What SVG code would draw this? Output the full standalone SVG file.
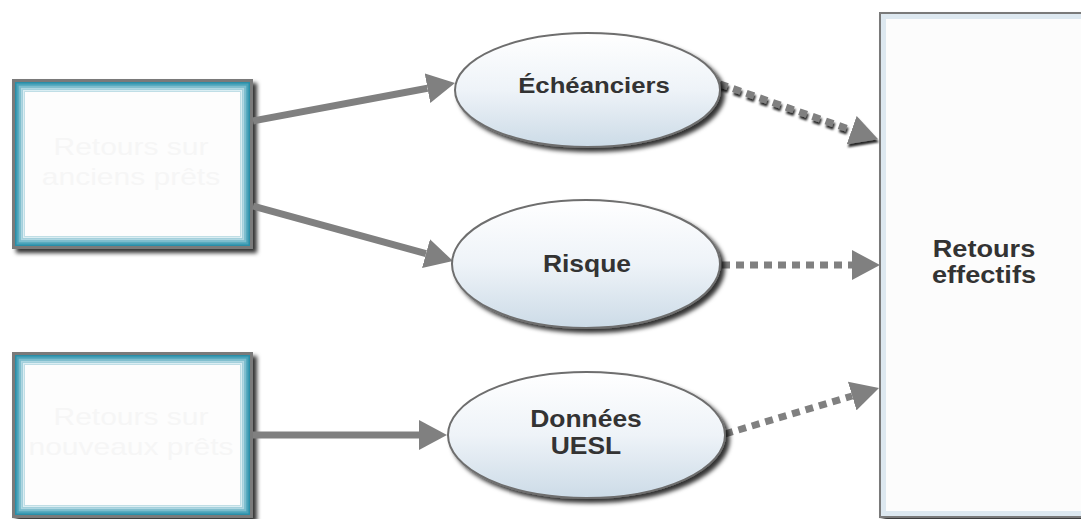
<svg xmlns="http://www.w3.org/2000/svg" width="1081" height="519" viewBox="0 0 1081 519">
<defs>
<linearGradient id="ellGrad" x1="0" y1="0" x2="0" y2="1">
<stop offset="0" stop-color="#ffffff"/>
<stop offset="0.5" stop-color="#eef3f8"/>
<stop offset="1" stop-color="#ccdbe7"/>
</linearGradient>
<filter id="shadow" x="-10%" y="-10%" width="125%" height="130%">
<feDropShadow dx="4" dy="4" stdDeviation="2" flood-color="#000" flood-opacity="0.8"/>
</filter>
<filter id="lineShadow" filterUnits="userSpaceOnUse" x="700" y="60" width="200" height="110">
<feDropShadow dx="1" dy="3" stdDeviation="1" flood-color="#000" flood-opacity="0.85"/>
</filter>
<marker id="head" viewBox="0 -15 28 30" refX="0" refY="0" markerWidth="28" markerHeight="30" markerUnits="userSpaceOnUse" orient="auto">
<path d="M0,-15 L28,0 L0,15 z" fill="#808080"/>
</marker>
</defs>
<style>
.solid{stroke:#808080;stroke-width:7;fill:none}
.dash{stroke:#808080;stroke-width:7;fill:none;stroke-dasharray:8 6}
.ell{fill:url(#ellGrad);stroke:#6e6e6e;stroke-width:2}
.lbl{font-family:"Liberation Sans",Arial,sans-serif;font-weight:bold;font-size:23px;fill:#333333;text-anchor:middle}
.faint{font-family:"Liberation Sans",Arial,sans-serif;font-size:24px;fill:#f6f6f6;text-anchor:middle}
</style>
<rect width="1081" height="519" fill="#ffffff"/>

<g id="box-anciens">
<g filter="url(#shadow)">
<rect x="12" y="79" width="241" height="170" fill="#7a7a7a"/>
</g>
<rect x="15" y="82" width="235" height="164" fill="#2a8ea8"/>
<rect x="17.5" y="84.5" width="230" height="159" fill="none" stroke="#4aa3ba" stroke-width="2"/>
<rect x="19.5" y="86.5" width="226" height="155" fill="none" stroke="#7cbdce" stroke-width="2"/>
<rect x="21.5" y="88.5" width="222" height="151" fill="none" stroke="#afd7e2" stroke-width="2"/>
<rect x="23.5" y="90.5" width="218" height="147" fill="none" stroke="#dbeef3" stroke-width="2"/>
<rect x="24.5" y="91.5" width="216" height="145" fill="#fdfdfd"/>
<text class="faint" transform="translate(131,155) scale(1.25,1)">Retours sur</text>
<text class="faint" transform="translate(131,185) scale(1.25,1)">anciens prêts</text>
</g>

<g id="box-nouveaux">
<g filter="url(#shadow)">
<rect x="12" y="352" width="241" height="166" fill="#7a7a7a"/>
</g>
<rect x="15" y="355" width="235" height="160" fill="#2a8ea8"/>
<rect x="17.5" y="357.5" width="230" height="155" fill="none" stroke="#4aa3ba" stroke-width="2"/>
<rect x="19.5" y="359.5" width="226" height="151" fill="none" stroke="#7cbdce" stroke-width="2"/>
<rect x="21.5" y="361.5" width="222" height="147" fill="none" stroke="#afd7e2" stroke-width="2"/>
<rect x="23.5" y="363.5" width="218" height="143" fill="none" stroke="#dbeef3" stroke-width="2"/>
<rect x="24.5" y="364.5" width="216" height="141" fill="#fdfdfd"/>
<text class="faint" transform="translate(131,425) scale(1.25,1)">Retours sur</text>
<text class="faint" transform="translate(131,455) scale(1.25,1)">nouveaux prêts</text>
</g>

<g id="connectors">
<path class="solid" d="M253,121 L427.5,88.2" marker-end="url(#head)"/>
<path class="solid" d="M253,206 L426,253.6" marker-end="url(#head)"/>
<path class="solid" d="M253,435 L419,435" marker-end="url(#head)"/>
<path class="dash" d="M720,84 L851.7,130.1" marker-end="url(#head)" filter="url(#lineShadow)"/>
<path class="dash" d="M722,265 L852,265" marker-end="url(#head)"/>
<path class="dash" d="M725,434 L852.2,396" marker-end="url(#head)"/>
</g>

<g id="node-echeanciers">
<ellipse class="ell" cx="587.5" cy="90" rx="132.5" ry="57" filter="url(#shadow)"/>
<text class="lbl" transform="translate(594,93) scale(1.12,1)">Échéanciers</text>
</g>

<g id="node-risque">
<ellipse class="ell" cx="586" cy="264" rx="134" ry="64" filter="url(#shadow)"/>
<text class="lbl" transform="translate(587,272) scale(1.15,1)">Risque</text>
</g>

<g id="node-donnees">
<ellipse class="ell" cx="586.5" cy="435" rx="138.5" ry="63" filter="url(#shadow)"/>
<text class="lbl" transform="translate(586,427) scale(1.15,1)">Données</text>
<text class="lbl" transform="translate(586,454) scale(1.15,1)">UESL</text>
</g>

<g id="node-retours-effectifs">
<rect x="880" y="13" width="210" height="504" fill="#dde8f0" stroke="#7a7a7a" stroke-width="2" filter="url(#shadow)"/>
<rect x="886" y="19" width="200" height="492" fill="#fcfcfc"/>
<text class="lbl" transform="translate(984,257) scale(1.18,1)">Retours</text>
<text class="lbl" transform="translate(984,283) scale(1.18,1)">effectifs</text>
</g>
</svg>
